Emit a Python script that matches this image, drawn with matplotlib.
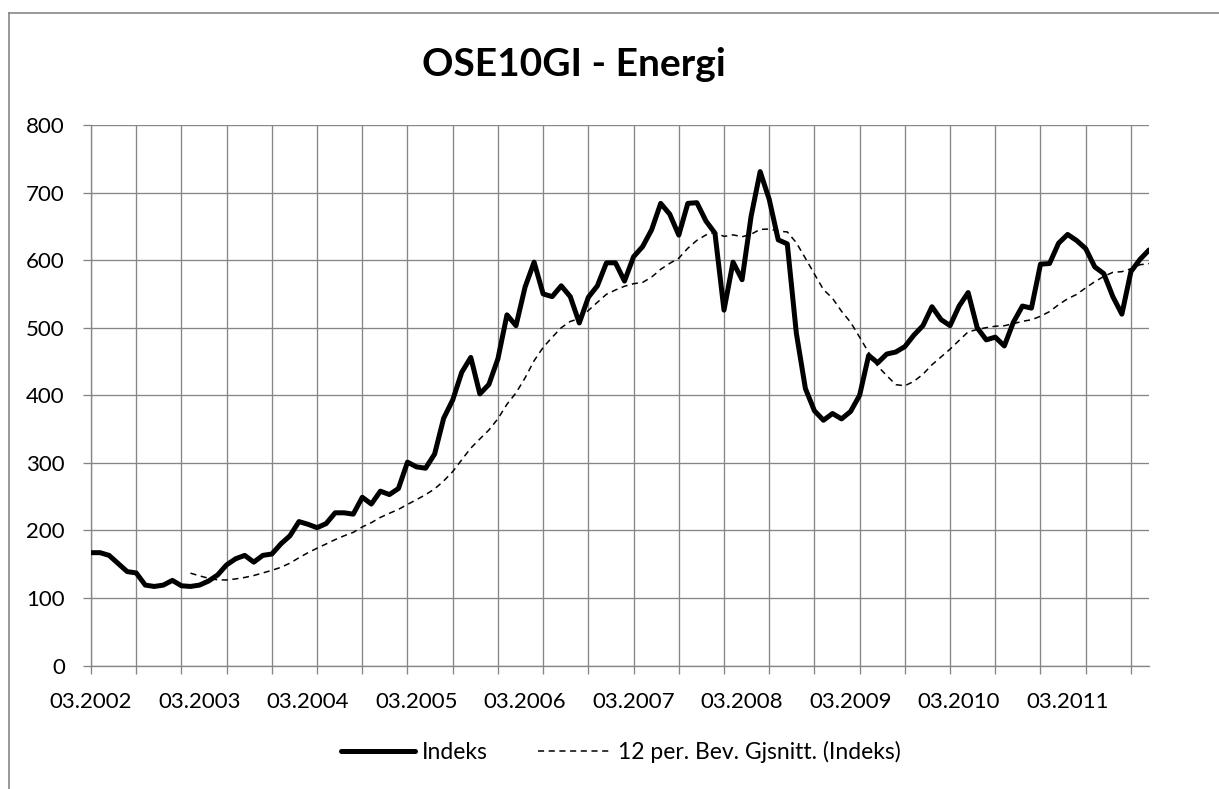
import pandas as pd
import matplotlib
matplotlib.use("Agg")
import matplotlib.pyplot as plt
from matplotlib.lines import Line2D

plt.rcParams['font.family'] = ['Lato', 'DejaVu Sans']

GRID_COLOR = "#868686"
W, H = 1219, 789

# Indeks, monthly from 03.2002 to 12.2011
indeks = [
    167, 167, 163, 151, 139, 137, 119, 117, 119, 126,
    118, 117, 119, 125, 134, 149, 158, 163, 153, 163,
    165, 180, 192, 213, 209, 204, 210, 226, 226, 224,
    249, 239, 258, 253, 262, 301, 294, 292, 313, 366,
    393, 434, 456, 402, 416, 454, 519, 503, 560, 597,
    550, 546, 562, 546, 507, 545, 562, 596, 596, 569,
    605, 620, 645, 684, 668, 637, 684, 685, 658, 640,
    526, 597, 571, 665, 731, 690, 630, 624, 492, 410,
    377, 363, 373, 365, 376, 400, 459, 448, 461, 464,
    472, 489, 503, 531, 512, 503, 532, 552, 500, 482,
    486, 473, 508, 532, 529, 594, 595, 625, 638, 629,
    617, 590, 580, 546, 520, 583, 601, 615,
]
x_labels = ["03.2002", "03.2003", "03.2004", "03.2005", "03.2006",
            "03.2007", "03.2008", "03.2009", "03.2010", "03.2011"]
y_ticks = [0, 100, 200, 300, 400, 500, 600, 700, 800]

x = list(range(len(indeks)))
# 12 period moving average trendline (as Excel computes it)
moving_avg = pd.Series(indeks).rolling(12).mean()

fig = plt.figure(figsize=(W / 100, H / 100), dpi=100)
ax = fig.add_axes([91 / W, 1 - 665.5 / H, (1149 - 91) / W, (665.5 - 125) / H])

ax.plot(x, indeks, color="black", linewidth=3.6, solid_joinstyle="round",
        solid_capstyle="round", zorder=3)
ax.plot(x, moving_avg, color="black", linewidth=1.1, linestyle=(0, (4, 3)), zorder=3)

ax.set_xlim(0, len(indeks) - 1)
ax.set_ylim(0, 800)

# gridlines / ticks every 5 months, labels every 12 months
ax.xaxis.remove_overlapping_locs = False
ax.set_xticks(range(0, len(indeks), 5))
ax.set_xticklabels([])
ax.set_xticks(range(0, 12 * len(x_labels), 12), minor=True)
ax.set_xticklabels(x_labels, minor=True)
ax.set_yticks(y_ticks)
ax.set_yticklabels([str(v) for v in y_ticks])

ax.grid(True, which="major", color=GRID_COLOR, linewidth=0.95)
ax.set_axisbelow(True)
ax.tick_params(axis="both", which="major", direction="out", length=5.8, width=0.95,
               color=GRID_COLOR, labelsize=16, pad=13)
ax.tick_params(axis="x", which="minor", length=0, labelsize=16, pad=19)

for side in ["top", "right"]:
    ax.spines[side].set_visible(False)
for side in ["left", "bottom"]:
    ax.spines[side].set_color(GRID_COLOR)
    ax.spines[side].set_linewidth(0.95)

fig.text(574 / W, 1 - 64 / H, "OSE10GI - Energi", fontsize=28, fontweight="bold",
         ha="center", va="center")

handles = [
    Line2D([], [], color="black", linewidth=3.6, solid_capstyle="round"),
    Line2D([], [], color="black", linewidth=1.1, linestyle=(0, (4, 3))),
]
fig.legend(handles, ["Indeks", "12 per. Bev. Gjsnitt. (Indeks)"], ncol=2,
           loc="center", bbox_to_anchor=(621 / W, 1 - 752 / H), frameon=False,
           fontsize=16.5, handlelength=3.2, handletextpad=0.3, columnspacing=2.2)

# chart area border (cropped at right and bottom)
fig.add_artist(Line2D([9 / W, 9 / W], [0, 1 - 13 / H], color=GRID_COLOR,
                      linewidth=1.2, transform=fig.transFigure))
fig.add_artist(Line2D([9 / W, 1], [1 - 13 / H, 1 - 13 / H], color=GRID_COLOR,
                      linewidth=1.2, transform=fig.transFigure))

fig.savefig("out.png", dpi=100)
